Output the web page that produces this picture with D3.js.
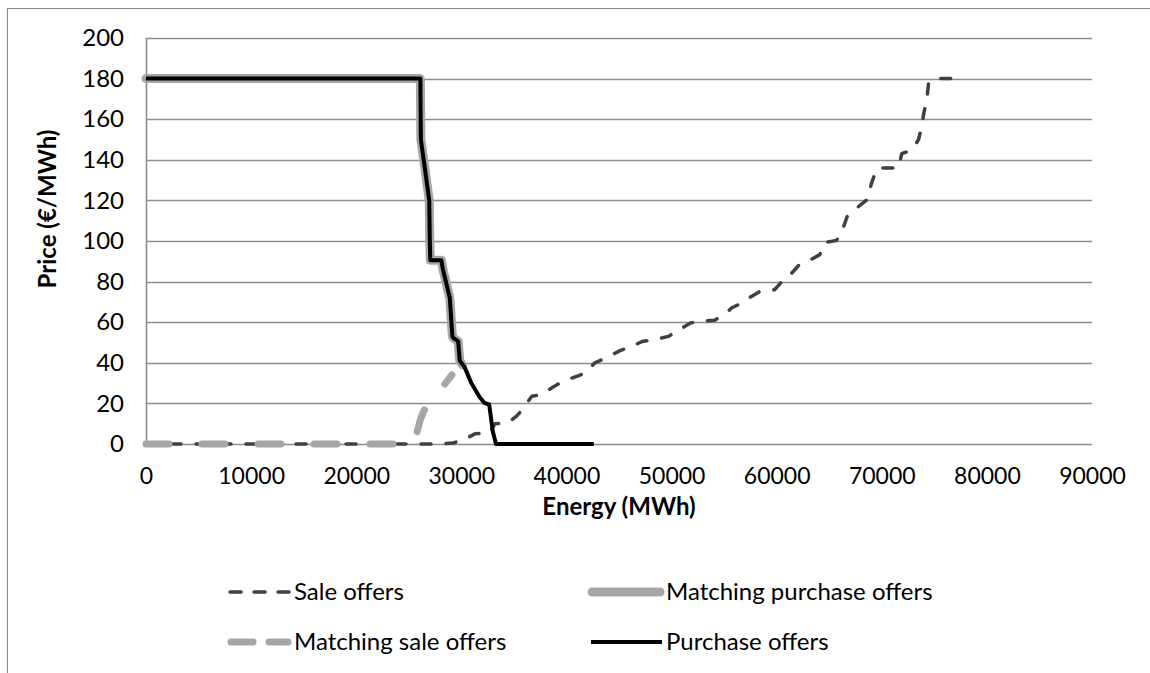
<!DOCTYPE html>
<html>
<head>
<meta charset="utf-8">
<script src="https://cdn.jsdelivr.net/npm/d3@7"></script>
<style>
  html, body { margin: 0; padding: 0; background: #fff; }
  svg { display: block; }
  text { font-family: Lato, "Open Sans", sans-serif; fill: #000; }
</style>
</head>
<body>
<svg id="chart" width="1150" height="673"></svg>
<script>
// ---- data (energy in MWh, price in €/MWh) ----
const xTicks = [0, 10000, 20000, 30000, 40000, 50000, 60000, 70000, 80000, 90000];
const yTicks = [0, 20, 40, 60, 80, 100, 120, 140, 160, 180, 200];

const saleOffers = [
  [0, 0], [28000, 0], [29200, 0.5], [30200, 2], [31300, 5], [32700, 5.5],
  [33200, 10], [34400, 10.3], [35300, 14], [35800, 17], [36700, 23.5], [37650, 24.3],
  [38700, 28], [39700, 31], [40800, 33], [41800, 35], [42700, 40], [44000, 43],
  [45100, 46], [46200, 48], [47200, 50.5], [48400, 51.4], [49700, 53], [50500, 55.5],
  [51800, 59.6], [52700, 60.4], [54100, 61], [55100, 64], [55700, 67], [56500, 69],
  [57600, 72.7], [58400, 75.2], [59800, 76], [60500, 80], [61400, 84], [62100, 88],
  [63300, 91], [64100, 93.3], [64600, 99.3], [65700, 100.3], [66300, 106], [66700, 112],
  [67800, 117], [68600, 120.3], [69000, 128], [69400, 134], [69600, 136], [71600, 136],
  [71900, 143], [72900, 145], [73500, 150], [73800, 156.5], [74000, 163], [74300, 170],
  [74450, 178], [74900, 180], [77600, 180]
];

const purchaseOffers = [
  [0, 180], [26100, 180], [26150, 150], [26950, 120], [27000, 100], [27050, 90.5],
  [28100, 90.5], [28250, 86], [28900, 72], [29150, 53], [29300, 52], [29700, 50.5],
  [29850, 41], [30300, 38], [30950, 30], [31750, 23], [32200, 20.2], [32650, 19.5],
  [33000, 6], [33300, 0], [42600, 0]
];

const matchingPurchaseOffers = [
  [0, 180], [26100, 180], [26150, 150], [26950, 120], [27000, 100], [27050, 90.5],
  [28100, 90.5], [28250, 86], [28900, 72], [29150, 53], [29300, 52], [29700, 50.5],
  [29850, 41], [30100, 39]
];

const matchingSaleOffers = [
  [0, 0], [25400, 0], [25750, 5], [26100, 12], [26400, 16], [27000, 21],
  [27900, 26], [28500, 30], [29100, 34]
];

const legendLabels = ["Sale offers", "Matching purchase offers", "Matching sale offers", "Purchase offers"];

// ---- drawing ----
const svg = d3.select("#chart");
const W = 1150, H = 673;
const plot = { left: 146, right: 1092, top: 38, bottom: 444 };
const FS = 24;
const TFS = 23;

svg.append("rect").attr("x", 0).attr("y", 0).attr("width", W).attr("height", H).attr("fill", "#fff");
// outer chart frame
svg.append("rect").attr("x", 7.5).attr("y", 8.5).attr("width", W + 20).attr("height", H + 20)
  .attr("fill", "none").attr("stroke", "#888").attr("stroke-width", 1);

const x = d3.scaleLinear().domain([0, 90000]).range([plot.left, plot.right]);
const y = d3.scaleLinear().domain([0, 200]).range([plot.bottom, plot.top]);

// gridlines
svg.append("g").selectAll("line").data(yTicks).join("line")
  .attr("x1", plot.left).attr("x2", plot.right)
  .attr("y1", d => Math.round(y(d)) + 0.5).attr("y2", d => Math.round(y(d)) + 0.5)
  .attr("stroke", "#8c8c8c").attr("stroke-width", 1.6);
// vertical axis line
svg.append("line").attr("x1", plot.left + 0.5).attr("x2", plot.left + 0.5)
  .attr("y1", plot.top).attr("y2", plot.bottom)
  .attr("stroke", "#8c8c8c").attr("stroke-width", 1.6);

// axes labels via d3 axes (no domain / ticks drawn)
const yAxis = svg.append("g").attr("transform", `translate(${plot.left},0)`)
  .call(d3.axisLeft(y).tickValues(yTicks).tickSize(0).tickPadding(22).tickFormat(d3.format("d")));
yAxis.select(".domain").remove();
yAxis.selectAll("text").attr("font-size", FS).attr("font-family", "Lato").attr("fill", "#000");

const xAxis = svg.append("g").attr("transform", `translate(0,${plot.bottom})`)
  .call(d3.axisBottom(x).tickValues(xTicks).tickSize(0).tickPadding(24).tickFormat(d3.format("d")));
xAxis.select(".domain").remove();
xAxis.selectAll("text").attr("font-size", TFS).attr("font-family", "Lato").attr("fill", "#000");

// axis titles
svg.append("text").attr("transform", `translate(56,209) rotate(-90)`)
  .attr("text-anchor", "middle").attr("font-size", FS).attr("font-weight", "bold")
  .text("Price (€/MWh)");
svg.append("text").attr("x", (plot.left + plot.right) / 2).attr("y", 515)
  .attr("text-anchor", "middle").attr("font-size", FS).attr("font-weight", "bold")
  .text("Energy (MWh)");

const line = d3.line().x(d => x(d[0])).y(d => y(d[1]));

const styles = {
  sale: { stroke: "#404040", width: 3.5, dash: "10 15", cap: "round" },
  mpurch: { stroke: "#a6a6a6", width: 9, dash: null, cap: "round" },
  msale: { stroke: "#a6a6a6", width: 7, dash: "23 33", cap: "round" },
  purch: { stroke: "#000000", width: 4, dash: null, cap: "butt" }
};

function drawSeries(data, st) {
  svg.append("path").datum(data).attr("d", line)
    .attr("fill", "none").attr("stroke", st.stroke).attr("stroke-width", st.width)
    .attr("stroke-dasharray", st.dash).attr("stroke-linecap", st.cap)
    .attr("stroke-linejoin", "round");
}
drawSeries(saleOffers, styles.sale);
drawSeries(matchingPurchaseOffers, styles.mpurch);
drawSeries(matchingSaleOffers, styles.msale);
drawSeries(purchaseOffers, styles.purch);

// legend
const legendItems = [
  { label: legendLabels[0], st: styles.sale, x1: 230, x2: 289, ty: 592, tx: 294, dash: "11 13" },
  { label: legendLabels[1], st: styles.mpurch, x1: 592, x2: 660, ty: 592, tx: 666, dash: null },
  { label: legendLabels[2], st: styles.msale, x1: 231, x2: 288, ty: 642, tx: 294, dash: "22 16" },
  { label: legendLabels[3], st: styles.purch, x1: 591, x2: 662, ty: 642, tx: 666, dash: null }
];
const lg = svg.append("g");
legendItems.forEach(it => {
  lg.append("line").attr("x1", it.x1).attr("x2", it.x2).attr("y1", it.ty).attr("y2", it.ty)
    .attr("stroke", it.st.stroke).attr("stroke-width", it.st.width)
    .attr("stroke-dasharray", it.dash).attr("stroke-linecap", it.st.cap);
  lg.append("text").attr("x", it.tx).attr("y", it.ty).attr("dy", "0.35em")
    .attr("font-size", FS).text(it.label);
});
</script>
</body>
</html>
